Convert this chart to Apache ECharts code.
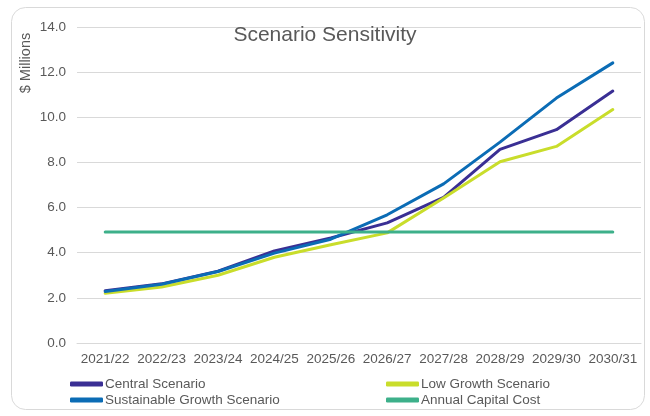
<!DOCTYPE html>
<html><head><meta charset="utf-8">
<script src="https://cdn.jsdelivr.net/npm/echarts@6/dist/echarts.min.js"></script>
<style>html,body{margin:0;padding:0;background:#fff}#c{width:650px;height:416px}</style>
</head><body><div id="c"></div>
<script>
const categories = ['2021/22','2022/23','2023/24','2024/25','2025/26','2026/27','2027/28','2028/29','2029/30','2030/31'];
const central = [2.32, 2.62, 3.18, 4.08, 4.65, 5.32, 6.45, 8.58, 9.45, 11.16];
const lowGrowth = [2.2, 2.48, 3.0, 3.8, 4.35, 4.88, 6.42, 8.03, 8.71, 10.34];
const sustainable = [2.28, 2.6, 3.17, 3.98, 4.6, 5.68, 7.05, 8.9, 10.85, 12.41];
const annualCost = [4.92, 4.92, 4.92, 4.92, 4.92, 4.92, 4.92, 4.92, 4.92, 4.92];
const yTicks = [0, 2, 4, 6, 8, 10, 12, 14];

const chart = echarts.init(document.getElementById('c'));
const font = 'Arial, "Liberation Sans", sans-serif';
const mk = (name, data, color) => ({
  name, type: 'line', data, symbol: 'none',
  lineStyle: { width: 3, color, cap: 'round' }, itemStyle: { color }
});
chart.setOption({
  animation: false,
  textStyle: { fontFamily: font },
  graphic: [{
    type: 'rect', shape: { x: 11.5, y: 7.5, width: 633, height: 402, r: 14 },
    style: { fill: 'none', stroke: '#d9d9d9', lineWidth: 1 }, z: -1
  }, {
    type: 'text', x: 26, y: 63, rotation: Math.PI / 2,
    style: { text: '$ Millions', fill: '#595959', fontSize: 14.5, fontFamily: font, align: 'center', verticalAlign: 'middle' }
  }],
  title: {
    text: 'Scenario Sensitivity', left: 'center', top: 20,
    textStyle: { fontSize: 21, fontWeight: 'normal', color: '#595959', fontFamily: font }
  },
  legend: [{
    orient: 'vertical', left: 65, top: 372, itemGap: 2, itemWidth: 33, itemHeight: 5,
    icon: 'roundRect', data: ['Central Scenario', 'Sustainable Growth Scenario'],
    textStyle: { fontSize: 13.5, color: '#595959', padding: [0, 0, 0, -3] }
  }, {
    orient: 'vertical', left: 381, top: 372, itemGap: 2, itemWidth: 33, itemHeight: 5,
    icon: 'roundRect', data: ['Low Growth Scenario', 'Annual Capital Cost'],
    textStyle: { fontSize: 13.5, color: '#595959', padding: [0, 0, 0, -3] }
  }],
  grid: { left: 77, right: 9, top: 27, bottom: 73, outerBoundsMode: 'none', containLabel: false },
  xAxis: {
    type: 'category', data: categories, boundaryGap: true,
    axisLine: { lineStyle: { color: '#d9d9d9' } }, axisTick: { show: false },
    axisLabel: { color: '#595959', fontSize: 13.5, margin: 9, interval: 0 }
  },
  yAxis: {
    type: 'value', min: yTicks[0], max: yTicks[yTicks.length - 1], interval: 2,
    axisLine: { show: false }, axisTick: { show: false },
    axisLabel: { color: '#595959', fontSize: 13.5, margin: 11, formatter: v => v.toFixed(1) },
    splitLine: { lineStyle: { color: '#d9d9d9' } }
  },
  series: [
    mk('Central Scenario', central, '#3A2F94'),
    mk('Low Growth Scenario', lowGrowth, '#C9DD2B'),
    mk('Sustainable Growth Scenario', sustainable, '#0B6CB5'),
    mk('Annual Capital Cost', annualCost, '#3DB08A')
  ]
});
</script></body></html>
